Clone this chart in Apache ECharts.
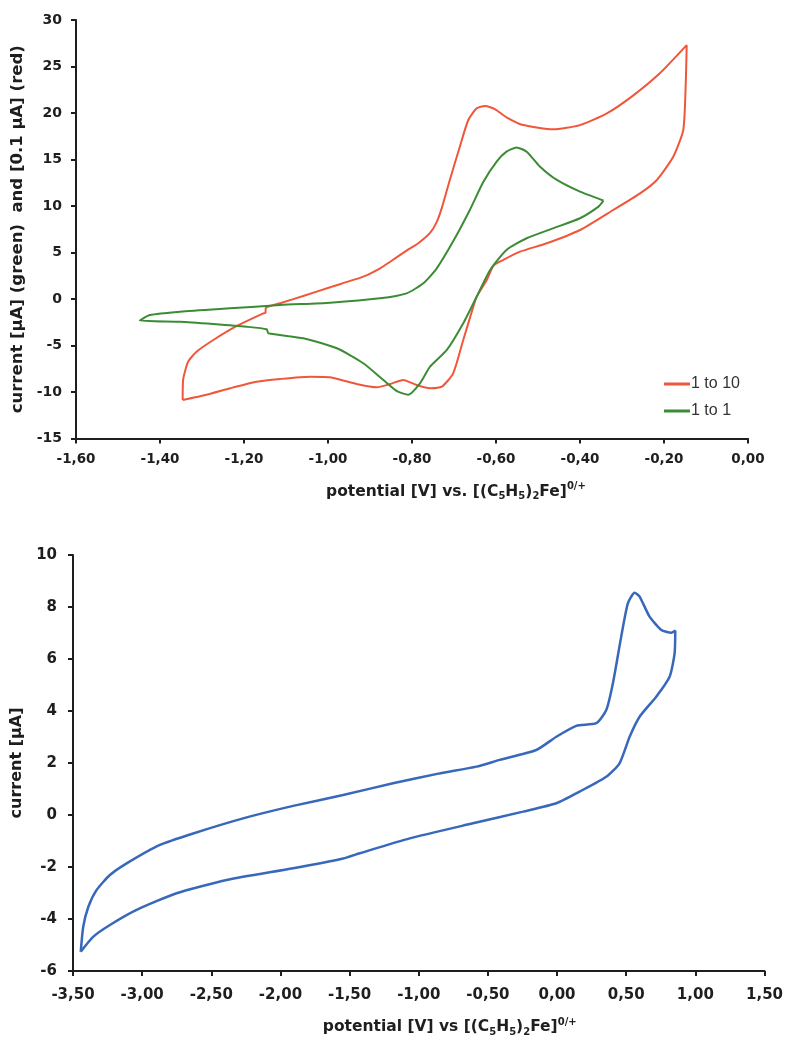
<!DOCTYPE html>
<html>
<head>
<meta charset="utf-8">
<script src="https://cdn.jsdelivr.net/npm/echarts@6/dist/echarts.min.js"></script>
<style>
  html, body { margin: 0; padding: 0; background: #fff; }
  #chart { width: 786px; height: 1041px; }
</style>
</head>
<body>
<div id="chart"></div>
<script>
// Cyclic voltammograms, potential in V, current in µA (red trace in 0.1 µA)
const ratio10Potential = [-1.346,-1.345,-1.333,-1.313,-1.273,-1.217,-1.154,-1.149,-1.148,-1.114,-1.059,-0.995,-0.916,-0.876,-0.852,-0.813,-0.785,-0.757,-0.741,-0.729,-0.710,-0.686,-0.666,-0.646,-0.626,-0.602,-0.575,-0.535,-0.464,-0.400,-0.336,-0.273,-0.210,-0.146,-0.148,-0.154,-0.178,-0.217,-0.257,-0.321,-0.400,-0.479,-0.543,-0.583,-0.606,-0.622,-0.646,-0.654,-0.678,-0.702,-0.729,-0.757,-0.789,-0.821,-0.852,-0.884,-0.932,-0.995,-1.043,-1.114,-1.170,-1.233,-1.289,-1.346];
const ratio10Current   = [-10.86,-8.7,-6.74,-5.67,-4.41,-2.90,-1.54,-1.5,-0.95,-0.46,0.32,1.26,2.40,3.3,4.01,5.2,6.0,7.1,8.3,9.8,12.8,16.4,19.25,20.5,20.75,20.4,19.54,18.7,18.24,18.7,19.96,21.9,24.27,27.3,23.5,18.2,15.3,12.8,11.36,9.57,7.42,5.99,5.09,4.19,3.6,2.04,0.25,-0.83,-4.41,-7.99,-9.43,-9.6,-9.25,-8.7,-9.14,-9.5,-9.14,-8.42,-8.35,-8.6,-8.9,-9.6,-10.3,-10.86];

const ratio1Potential = [-0.344,-0.356,-0.400,-0.464,-0.527,-0.575,-0.614,-0.646,-0.678,-0.717,-0.757,-0.781,-0.809,-0.836,-0.868,-0.916,-0.979,-1.059,-1.142,-1.146,-1.194,-1.273,-1.352,-1.448,-1.424,-1.352,-1.233,-1.114,-0.995,-0.876,-0.813,-0.773,-0.741,-0.702,-0.662,-0.630,-0.598,-0.575,-0.551,-0.527,-0.495,-0.455,-0.400,-0.348,-0.344];
const ratio1Current   = [10.57,9.93,8.68,7.6,6.53,5.27,3.12,0.25,-2.61,-5.48,-7.28,-9.07,-10.3,-9.9,-8.71,-6.91,-5.3,-4.22,-3.69,-3.26,-2.98,-2.69,-2.44,-2.3,-1.72,-1.36,-1.0,-0.65,-0.40,0.07,0.61,1.69,3.3,6.2,9.6,12.6,14.8,15.84,16.3,15.84,14.23,12.8,11.54,10.65,10.57];

const widePotential = [-3.444,-3.426,-3.389,-3.329,-3.233,-3.112,-2.871,-2.631,-2.270,-1.908,-1.547,-1.186,-0.849,-0.583,-0.415,-0.150,-0.005,0.139,0.284,0.356,0.404,0.464,0.512,0.561,0.597,0.669,0.754,0.826,0.855,0.850,0.814,0.717,0.597,0.525,0.452,0.356,0.163,-0.005,-0.246,-0.608,-1.065,-1.426,-1.547,-1.908,-2.389,-2.751,-3.040,-3.233,-3.353,-3.444];
const wideCurrent   = [-5.26,-4.30,-3.53,-2.88,-2.31,-1.86,-1.15,-0.71,-0.13,0.35,0.77,1.22,1.60,1.86,2.12,2.5,3.01,3.43,3.53,4.04,5.07,6.86,8.14,8.55,8.40,7.63,7.12,7.01,7.09,6.22,5.32,4.55,3.78,3.01,1.99,1.47,0.90,0.45,0.13,-0.32,-0.90,-1.47,-1.67,-2.05,-2.5,-3.01,-3.65,-4.23,-4.68,-5.26];

const legendNames = ['1 to 10', '1 to 1'];

const zip = (xs, ys) => xs.map((x, i) => [x, ys[i]]);
const comma = v => v.toFixed(2).replace('.', ',');

const ink = '#1e1e1e';
const tickFont = 'DejaVu Sans';
const rich = {
  b:   { fontFamily: tickFont, fontWeight: 'bold', fontSize: 15.5, lineHeight: 20, color: ink },
  sub: { fontFamily: tickFont, fontWeight: 'bold', fontSize: 10, lineHeight: 9, verticalAlign: 'bottom', color: ink },
  sup: { fontFamily: tickFont, fontWeight: 'bold', fontSize: 10, lineHeight: 11, verticalAlign: 'top', color: ink }
};

function axisLook() {
  return {
    axisLine: { show: true, onZero: false, lineStyle: { color: ink, width: 2 } },
    axisTick: { show: true, inside: false, length: 5, lineStyle: { color: ink, width: 2 } },
    splitLine: { show: false }
  };
}

const option = {
  animation: false,
  backgroundColor: '#ffffff',
  grid: [
    { left: 76, top: 20, width: 672, height: 418.5 },
    { left: 73, top: 555, width: 692, height: 416 }
  ],
  legend: {
    orient: 'vertical',
    left: 664,
    top: 376,
    data: legendNames,
    icon: 'rect',
    itemWidth: 26,
    itemHeight: 3,
    itemGap: 11,
    padding: 0,
    textStyle: { fontFamily: 'Liberation Sans', fontSize: 16, color: '#333', padding: [0, 0, 0, -4] }
  },
  xAxis: [
    Object.assign(axisLook(), {
      type: 'value', gridIndex: 0, min: -1.6, max: 0, interval: 0.2,
      name: '{b|potential [V] vs. [(C}{sub|5}{b|H}{sub|5}{b|)}{sub|2}{b|Fe]}{sup|0/+}',
      nameLocation: 'middle', nameGap: 43,
      nameTextStyle: { rich: rich, padding: [0, 0, 0, 88] },
      axisLabel: { margin: 14, fontFamily: tickFont, fontWeight: 'bold', fontSize: 13.5, color: ink, formatter: comma }
    }),
    Object.assign(axisLook(), {
      type: 'value', gridIndex: 1, min: -3.5, max: 1.5, interval: 0.5,
      name: '{b|potential [V] vs [(C}{sub|5}{b|H}{sub|5}{b|)}{sub|2}{b|Fe]}{sup|0/+}',
      nameLocation: 'middle', nameGap: 46,
      nameTextStyle: { rich: rich, padding: [0, 0, 0, 62] },
      axisLabel: { margin: 17, fontFamily: tickFont, fontWeight: 'bold', fontSize: 15, color: ink, formatter: comma }
    })
  ],
  yAxis: [
    Object.assign(axisLook(), {
      type: 'value', gridIndex: 0, min: -15, max: 30, interval: 5,
      name: 'current [µA] (green)  and [0.1 µA] (red)',
      nameLocation: 'middle', nameGap: 44,
      nameTextStyle: { fontFamily: tickFont, fontWeight: 'bold', fontSize: 16.5, color: ink },
      axisLabel: { margin: 14, fontFamily: tickFont, fontWeight: 'bold', fontSize: 14, color: ink }
    }),
    Object.assign(axisLook(), {
      type: 'value', gridIndex: 1, min: -6, max: 10, interval: 2,
      name: 'current [µA]',
      nameLocation: 'middle', nameGap: 38,
      nameTextStyle: { fontFamily: tickFont, fontWeight: 'bold', fontSize: 16, color: ink },
      axisLabel: { margin: 16, fontFamily: tickFont, fontWeight: 'bold', fontSize: 15, color: ink }
    })
  ],
  series: [
    {
      name: legendNames[0], type: 'line', xAxisIndex: 0, yAxisIndex: 0,
      data: zip(ratio10Potential, ratio10Current),
      symbol: 'none', smooth: 0.2, color: '#F0573A',
      lineStyle: { color: '#F0573A', width: 2 }
    },
    {
      name: legendNames[1], type: 'line', xAxisIndex: 0, yAxisIndex: 0,
      data: zip(ratio1Potential, ratio1Current),
      symbol: 'none', smooth: 0.2, color: '#3C8C36',
      lineStyle: { color: '#3C8C36', width: 2 }
    },
    {
      name: 'wide scan', type: 'line', xAxisIndex: 1, yAxisIndex: 1,
      data: zip(widePotential, wideCurrent),
      symbol: 'none', smooth: 0.2, color: '#3868BA',
      lineStyle: { color: '#3868BA', width: 2.5 }
    }
  ]
};

const chart = echarts.init(document.getElementById('chart'), null, { renderer: 'canvas' });
chart.setOption(option);
</script>
</body>
</html>
